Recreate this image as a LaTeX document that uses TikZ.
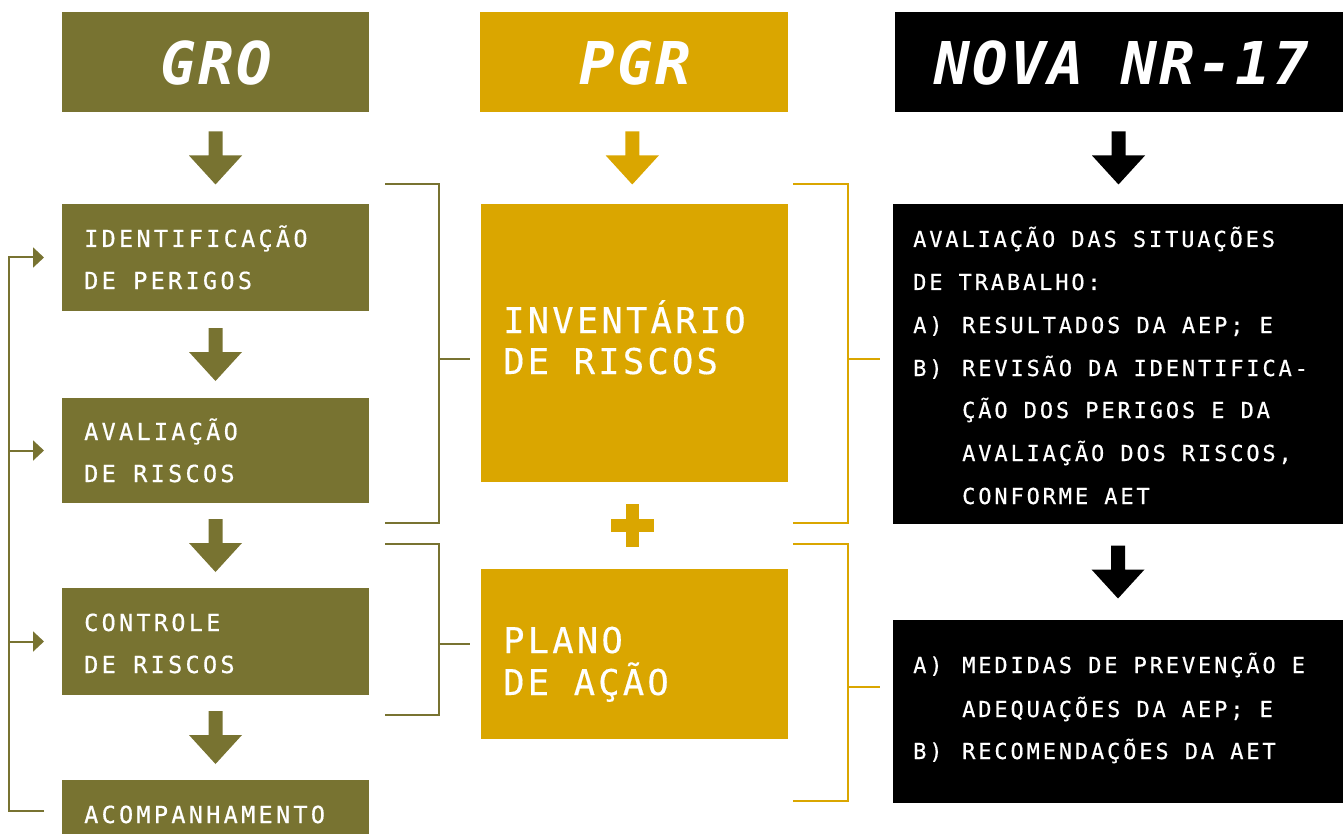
\documentclass[tikz,border=0pt]{standalone}
\usepackage{fontspec}
\usetikzlibrary{arrows.meta,calc}
\definecolor{olv}{HTML}{787331}
\definecolor{gld}{HTML}{DAA600}
\newfontfamily\hdrfont[LetterSpace=4]{DejaVu Sans Mono Bold Oblique}
\newfontfamily\lfont[LetterSpace=14,FakeBold=0.6]{DejaVu Sans Mono}
\newfontfamily\rfont[LetterSpace=13,FakeBold=0.6]{DejaVu Sans Mono}
\newfontfamily\bfont[LetterSpace=9,FakeBold=0.3]{DejaVu Sans Mono}
\tikzset{
  blk/.style={inner sep=0pt, outer sep=0pt, anchor=north west, draw=none},
  hdr/.style={anchor=base, inner sep=0pt, text=white, font={\hdrfont\fontsize{59}{59}\selectfont}},
  ltx/.style={anchor=base west, inner sep=0pt, text=white, font={\lfont\fontsize{23.5}{27}\selectfont}},
  rtx/.style={anchor=base west, inner sep=0pt, text=white, font={\rfont\fontsize{22}{25}\selectfont}},
  btx/.style={anchor=base west, inner sep=0pt, text=white, font={\bfont\fontsize{35.5}{40}\selectfont}},
  brk/.style={line width=2pt},
  loopline/.style={line width=2pt, draw=olv},
  dnarrow/.pic={\fill (-7,-26.5) -- (7,-26.5) -- (7,-2.5) -- (26.5,-2.5) -- (0,26.5) -- (-26.5,-2.5) -- (-7,-2.5) -- cycle;},
  plussign/.pic={\fill (-21.5,-6.5) rectangle (21.5,6.5); \fill (-6.5,-21.5) rectangle (6.5,21.5);}
}
\begin{document}
\begin{tikzpicture}[x=1pt,y=-1pt]
\useasboundingbox (0,0) rectangle (1343,834);
\clip (0,0) rectangle (1343,834);

% ---------------- GRO column
\node[blk, fill=olv, minimum width=307pt, minimum height=100pt] (gro) at (62,12) {};
\node[hdr] (grot) at (216.5,85) {GRO};
\node[blk, fill=olv, minimum width=307pt, minimum height=107pt] (ident) at (62,204) {};
\node[blk, fill=olv, minimum width=307pt, minimum height=105pt] (aval) at (62,398) {};
\node[blk, fill=olv, minimum width=307pt, minimum height=107pt] (ctrl) at (62,588) {};
\node[blk, fill=olv, minimum width=307pt, minimum height=107pt] (acomp) at (62,780) {};
\node[ltx] (t1a) at (84,247) {IDENTIFICAÇÃO};
\node[ltx] (t1b) at (84,289) {DE PERIGOS};
\node[ltx] (t2a) at (84,440) {AVALIAÇÃO};
\node[ltx] (t2b) at (84,482) {DE RISCOS};
\node[ltx] (t3a) at (84,631) {CONTROLE};
\node[ltx] (t3b) at (84,673) {DE RISCOS};
\node[ltx] (t4a) at (84,823) {ACOMPANHAMENTO};

\pic[color=olv] at ($(gro.south)!0.5!(ident.north)$) {dnarrow};
\pic[color=olv] at ($(ident.south)!0.5!(aval.north)$) {dnarrow};
\pic[color=olv] at ($(aval.south)!0.5!(ctrl.north)$) {dnarrow};
\pic[color=olv] at ($(ctrl.south)!0.5!(acomp.north)$) {dnarrow};

% feedback loop
\coordinate (lx) at (9,811);
\coordinate (lend) at (44,811);
\coordinate (identin) at ([xshift=-18pt]ident.west);
\coordinate (avalin) at ([xshift=-18pt]aval.west);
\coordinate (ctrlin) at ([xshift=-18pt]ctrl.west);
\draw[loopline, -{Triangle[width=20pt,length=11pt]}] (lend) -- (lx) |- (identin);
\draw[loopline, -{Triangle[width=20pt,length=11pt]}] (lx |- avalin) -- (avalin);
\draw[loopline, -{Triangle[width=20pt,length=11pt]}] (lx |- ctrlin) -- (ctrlin);

% ---------------- PGR column
\node[blk, fill=gld, minimum width=308pt, minimum height=100pt] (pgr) at (480,12) {};
\node[hdr] (pgrt) at (635,85) {PGR};
\node[blk, fill=gld, minimum width=307pt, minimum height=278pt] (inv) at (481,204) {};
\node[blk, fill=gld, minimum width=307pt, minimum height=170pt] (plano) at (481,569) {};
\node[btx] (t5a) at (503,333) {INVENTÁRIO};
\node[btx] (t5b) at (503,374) {DE RISCOS};
\node[btx] (t6a) at (503,653) {PLANO};
\node[btx] (t6b) at (503,695) {DE AÇÃO};
\pic[color=gld] at ($(pgr.south)!0.5!(inv.north)+(-2,0)$) {dnarrow};
\pic[color=gld] at ($(inv.south)!0.5!(plano.north)+(-2,0)$) {plussign};

% olive brackets
\coordinate (ob1) at (439,359);
\coordinate (ob2) at (439,644);
\coordinate (invl) at ([xshift=-11pt]inv.west);
\coordinate (planol) at ([xshift=-11pt]plano.west);
\draw[brk, olv] (385,184) -| (439,523) -- (385,523);
\draw[brk, olv] (ob1) -- (ob1 -| invl);
\draw[brk, olv] (385,544) -| (439,715) -- (385,715);
\draw[brk, olv] (ob2) -- (ob2 -| planol);

% ---------------- NR-17 column
\node[blk, fill=black, minimum width=448pt, minimum height=100pt] (nr) at (895,12) {};
\node[hdr] (nrt) at (1122,85) {NOVA NR-17};
\node[blk, fill=black, minimum width=450pt, minimum height=320pt] (nr1) at (893,204) {};
\node[blk, fill=black, minimum width=450pt, minimum height=183pt] (nr2) at (893,620) {};
\pic[color=black] at ($(nr.south)!0.5!(nr1.north)$) {dnarrow};
\pic[color=black] at ($(nr1.south)!0.5!(nr2.north)$) {dnarrow};

\node[rtx] (r1) at (913,247) {AVALIAÇÃO DAS SITUAÇÕES};
\node[rtx] (r2) at (913,290) {DE TRABALHO:};
\node[rtx] (r3) at (913,333) {A)};
\node[rtx] (r3b) at (962,333) {RESULTADOS DA AEP; E};
\node[rtx] (r4) at (913,376) {B)};
\node[rtx] (r4b) at (962,376) {REVISÃO DA IDENTIFICA-};
\node[rtx] (r5) at (962,418) {ÇÃO DOS PERIGOS E DA};
\node[rtx] (r6) at (962,461) {AVALIAÇÃO DOS RISCOS,};
\node[rtx] (r7) at (962,504) {CONFORME AET};

\node[rtx] (s1) at (913,673) {A)};
\node[rtx] (s1b) at (962,673) {MEDIDAS DE PREVENÇÃO E};
\node[rtx] (s2) at (962,717) {ADEQUAÇÕES DA AEP; E};
\node[rtx] (s3) at (913,759) {B)};
\node[rtx] (s3b) at (962,759) {RECOMENDAÇÕES DA AET};

% gold brackets
\coordinate (gb1) at (848,359);
\coordinate (gb2) at (848,687);
\coordinate (nr1l) at ([xshift=-13pt]nr1.west);
\coordinate (nr2l) at ([xshift=-13pt]nr2.west);
\draw[brk, gld] (793,184) -| (848,523) -- (793,523);
\draw[brk, gld] (gb1) -- (gb1 -| nr1l);
\draw[brk, gld] (793,544) -| (848,801) -- (793,801);
\draw[brk, gld] (gb2) -- (gb2 -| nr2l);
\end{tikzpicture}
\end{document}
